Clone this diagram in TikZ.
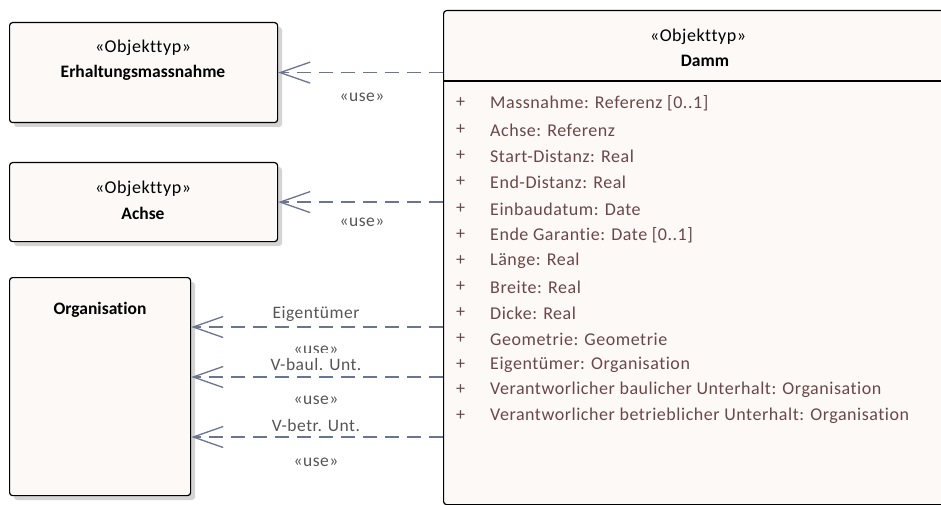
\documentclass[tikz,border=0pt]{standalone}
\usepackage{fontspec}
\setmainfont{Carlito}[Ligatures=NoCommon]
\usetikzlibrary{arrows.meta,calc}
\definecolor{boxfill}{HTML}{FDF9F7}
\definecolor{shadowgray}{HTML}{D4D4D4}
\definecolor{linkcol}{HTML}{6A7591}
\definecolor{attrcol}{HTML}{6B4848}
\definecolor{labelcol}{HTML}{555555}
\newcommand{\wide}{\addfontfeature{LetterSpace=3}}
\tikzset{
  x=1pt, y=-1pt,
  classbox/.style={draw=black, line width=1.2pt, fill=boxfill, rounded corners=3pt},
  boxshadow/.style={fill=shadowgray, rounded corners=3pt},
  uselink/.style={draw=linkcol, line width=1.3pt, dash pattern=on 14pt off 8pt,
    -{Straight Barb[length=30pt, width=21pt, line width=1.3pt]}},
  lbl/.style={text=labelcol, font=\fontsize{17.5}{20}\selectfont\wide, inner sep=1pt},
  attr/.style={text=attrcol, font=\fontsize{18}{21}\selectfont\wide, anchor=west, inner sep=0pt},
  stereo/.style={font=\fontsize{18}{21}\selectfont\wide, inner sep=0pt},
  cname/.style={font=\bfseries\fontsize{17.5}{20}\selectfont, inner sep=0pt},
}
\begin{document}
\begin{tikzpicture}
\useasboundingbox (0,0) rectangle (941,505);
\clip (0,0) rectangle (941,505);
\fill[white] (0,0) rectangle (941,505);

% shadows
\fill[boxshadow] (14,27) rectangle (282,127);
\fill[boxshadow] (14,167) rectangle (282,246);
\fill[boxshadow] (14,282) rectangle (195,500);

% class boxes on the left
\node[classbox, minimum width=268pt, minimum height=100pt, anchor=north west] (erh) at (9,22) {};
\node[stereo] at (143,48) {«Objekttyp»};
\node[cname] at (143,73) {Erhaltungsmassnahme};

\node[classbox, minimum width=268pt, minimum height=79pt, anchor=north west] (achse) at (9,162) {};
\node[stereo] at (143,189) {«Objekttyp»};
\node[cname] at (143,213) {Achse};

\node[classbox, minimum width=181pt, minimum height=218pt, anchor=north west] (org) at (9,277) {};
\node[cname] at (100,310) {Organisation};

% Damm class, running past the right edge
\node[classbox, minimum width=515pt, minimum height=494pt, anchor=north west] (damm) at (443,10) {};
\draw[line width=1.2pt] (443,81) -- (damm.east |- 0,81);
\node[stereo] at (698,37) {«Objekttyp»};
\node[cname] at (705,61) {Damm};

\foreach \y/\t in {
  103/{Massnahme: Referenz [0..1]},
  130/{Achse: Referenz},
  156/{Start-Distanz: Real},
  182/{End-Distanz: Real},
  209/{Einbaudatum: Date},
  235/{Ende Garantie: Date [0..1]},
  261/{Länge: Real},
  287/{Breite: Real},
  313/{Dicke: Real},
  339/{Geometrie: Geometrie},
  365/{Eigentümer: Organisation},
  390/{Verantworlicher baulicher Unterhalt: Organisation},
  416/{Verantworlicher betrieblicher Unterhalt: Organisation}}{
  \node[attr] at (456,\y) {+};
  \node[attr] at (490,\y) {\t};
}

% link end points on the Damm side
\coordinate (d1) at (damm.west |- erh.east);
\coordinate (d2) at (damm.west |- achse.east);
\coordinate (d3) at (443,327);
\coordinate (d4) at (443,377);
\coordinate (d5) at (443,437);

% labels (role names are set on white and hide the stereotype above them)
\node[lbl] at (362,97) {«use»};
\node[lbl] at (362,222) {«use»};
\node[lbl] at (316,350) {«use»};
\node[lbl] at (316,400) {«use»};
\node[lbl] at (316,462) {«use»};
\node[lbl] at (316,314) {Eigentümer};
\node[lbl, fill=white, inner ysep=5pt] at (316,364) {V-baul. Unt.};
\node[lbl, fill=white, inner ysep=5pt] at (316,425) {V-betr. Unt.};

% dependencies
\draw[uselink] (d1) -- (erh.east);
\draw[uselink] (d2) -- (achse.east);
\draw[uselink] (d3) -- (org.east |- d3);
\draw[uselink] (d4) -- (org.east |- d4);
\draw[uselink] (d5) -- (org.east |- d5);
\end{tikzpicture}
\end{document}
